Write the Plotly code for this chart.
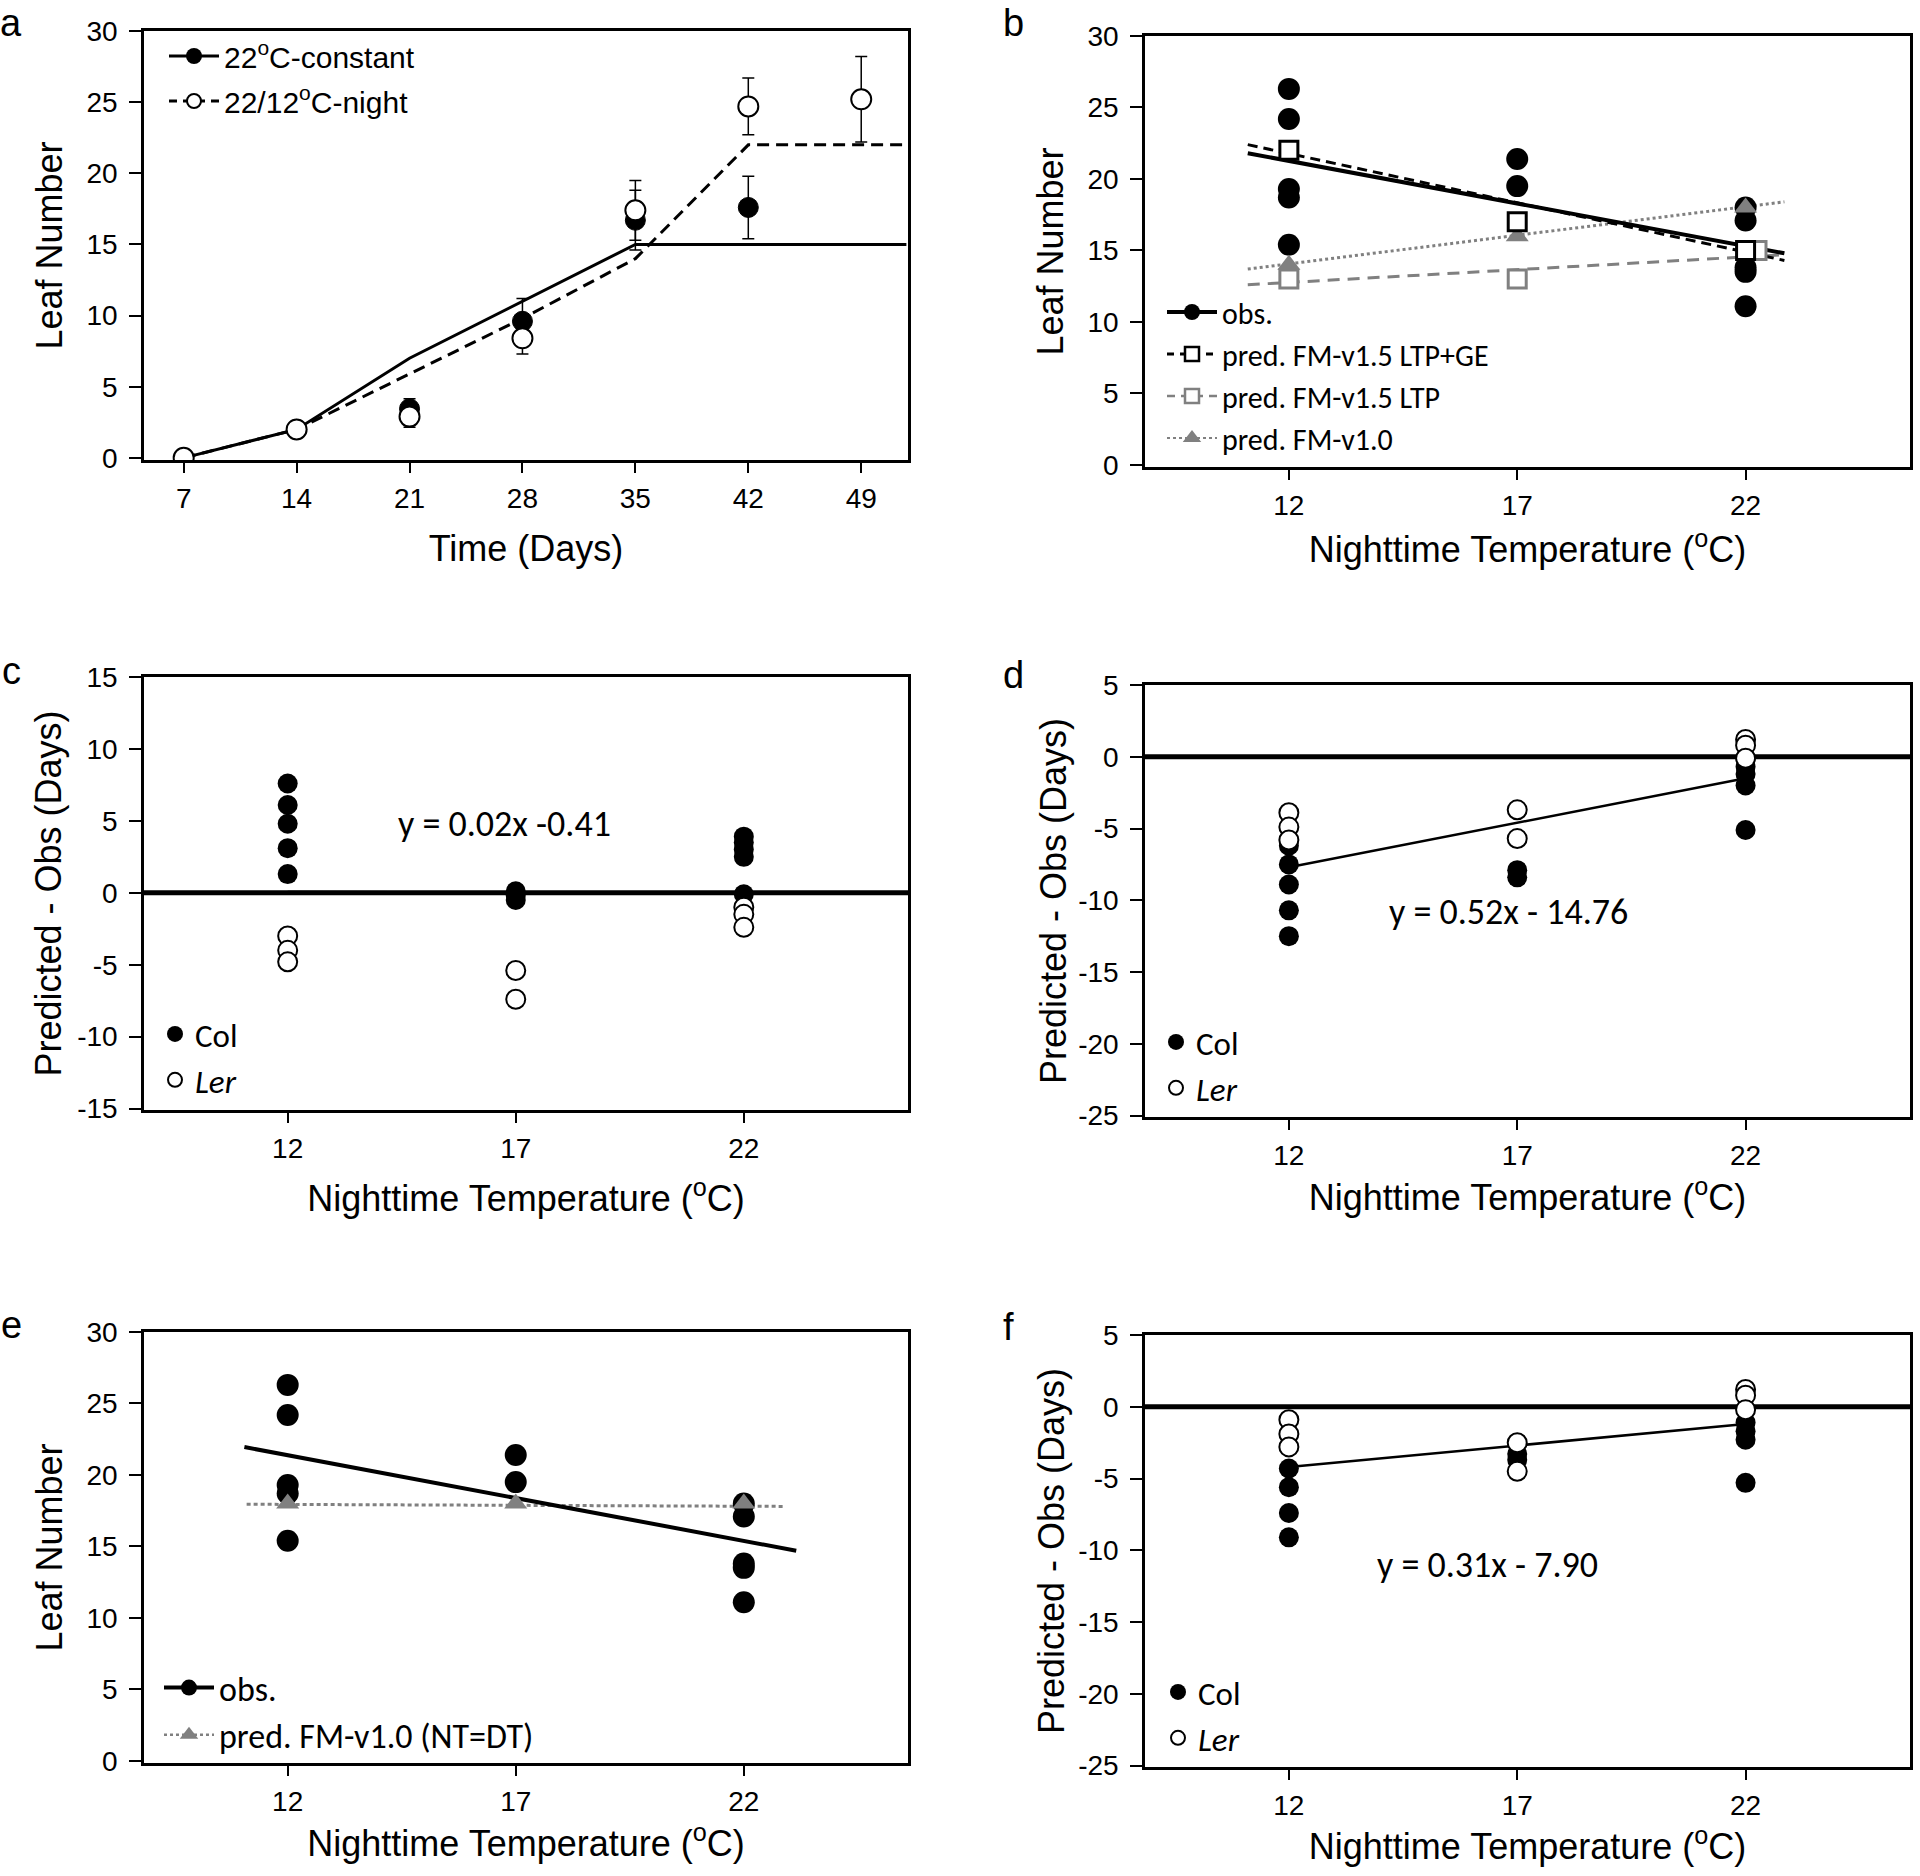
import plotly.graph_objects as go

# ---------------- data ----------------
# Panel a: leaf number over time
a_days = [7, 14, 21, 28, 35, 42]
a_const = [0.0, 2.0, 3.45, 9.6, 16.7, 17.6]
a_const_err = [0.0, 0.0, 0.7, 1.6, 2.1, 2.2]
a_night_days = [7, 14, 21, 28, 35, 42, 49]
a_night = [0.0, 2.0, 2.9, 8.4, 17.4, 24.7, 25.2]
a_night_err = [0.0, 0.0, 0.75, 1.1, 2.1, 2.0, 3.0]
a_model_days = [7, 14, 21, 28, 35, 51.8]
a_model_const = [0, 2, 7, 11, 15, 15]
a_model_night_days = [7, 14, 21, 28, 35, 42, 51.8]
a_model_night = [0, 2, 5.9, 9.8, 14.0, 22, 22]

# Panel b / e: leaf number vs nighttime temperature
temps = [12, 17, 22]
obs_temp = [12, 12, 12, 12, 12, 17, 17, 22, 22, 22, 22, 22]
obs_leaf = [26.3, 24.2, 19.3, 18.7, 15.4, 21.4, 19.5, 18.0, 17.1, 13.8, 13.5, 11.1]
pred_ltp_ge = [22.0, 17.0, 15.0]
ltp_temps = [12, 17, 22.25]
pred_ltp = [13.0, 13.0, 15.0]
pred_v10 = [14.0, 16.0, 18.0]
b_fit_temp = [11.1, 22.85]
b_fit_obs = [21.8, 14.8]
b_fit_ltp_ge = [22.4, 14.3]
b_fit_ltp = [12.6, 14.7]
b_fit_v10 = [13.7, 18.4]

e_pred_v10_ntdt = [18.0, 18.0, 18.0]
e_fit_temp = [11.05, 23.15]
e_fit_obs = [21.95, 14.7]
e_fit_v10_temp = [11.1, 22.9]
e_fit_v10 = [17.95, 17.8]

# Panel c: predicted - observed (days)
c_col_temp = [12, 12, 12, 12, 12, 17, 17, 17, 22, 22, 22, 22, 22]
c_col = [7.6, 6.1, 4.8, 3.1, 1.3, 0.1, -0.2, -0.5, 3.9, 3.5, 3.0, 2.5, -0.1]
c_ler_temp = [12, 12, 12, 17, 17, 22, 22, 22]
c_ler = [-3.0, -4.0, -4.8, -5.4, -7.4, -1.0, -1.5, -2.4]
c_fit_temp = [12, 22]
c_fit = [0.05, 0.0]
c_eq = "y = 0.02x -0.41"

# Panel d
d_col_temp = [12, 12, 12, 12, 12, 17, 17, 22, 22, 22, 22]
d_col = [-6.2, -7.5, -8.9, -10.7, -12.5, -7.9, -8.4, -0.7, -1.2, -2.0, -5.1]
d_ler_temp = [12, 12, 12, 17, 17, 22, 22, 22]
d_ler = [-3.9, -4.9, -5.8, -3.7, -5.7, 1.2, 0.8, -0.1]
d_fit_temp = [12, 22]
d_fit = [-7.7, -1.5]
d_eq = "y = 0.52x - 14.76"

# Panel f
f_col_temp = [12, 12, 12, 12, 17, 17, 22, 22, 22, 22]
f_col = [-4.3, -5.6, -7.4, -9.1, -3.3, -3.7, -1.1, -1.7, -2.3, -5.3]
f_ler_temp = [12, 12, 12, 17, 17, 22, 22, 22]
f_ler = [-0.9, -1.9, -2.8, -2.5, -4.5, 1.2, 0.8, -0.2]
f_fit_temp = [12, 22]
f_fit = [-4.2, -1.2]
f_eq = "y = 0.31x - 7.90"

# tick values / labels
day_ticks = [7, 14, 21, 28, 35, 42, 49]
leaf_ticks = [0, 5, 10, 15, 20, 25, 30]
c_ticks = [-15, -10, -5, 0, 5, 10, 15]
c_tick_labels = ["-15", "-10", "-5", "0", "5", "10", "15"]
df_ticks = [-25, -20, -15, -10, -5, 0, 5]
df_tick_labels = ["-25", "-20", "-15", "-10", "-5", "0", "5"]

# ---------------- styling ----------------
W, H = 1920, 1876
ARIAL = "Liberation Sans, Arial, sans-serif"
CAL = "Carlito, Calibri, Lato, sans-serif"
GREY = "#808080"
BLACK = "#000000"


def xd(l, r):
    return [l / W, r / W]


def yd(t, b):
    return [1 - b / H, 1 - t / H]


fig = go.Figure()

# ---------- panel a ----------
fig.add_trace(go.Scatter(x=a_model_days, y=a_model_const, mode="lines", xaxis="x", yaxis="y",
                         line=dict(color=BLACK, width=3), showlegend=False, hoverinfo="skip"))
fig.add_trace(go.Scatter(x=a_model_night_days, y=a_model_night, mode="lines", xaxis="x", yaxis="y",
                         line=dict(color=BLACK, width=3, dash="12px,7px"), showlegend=False, hoverinfo="skip"))
fig.add_trace(go.Scatter(x=a_days, y=a_const, mode="markers", xaxis="x", yaxis="y",
                         marker=dict(color=BLACK, size=20, line=dict(color=BLACK, width=1)),
                         error_y=dict(type="data", array=a_const_err, color=BLACK, thickness=1.5, width=6),
                         showlegend=False))
fig.add_trace(go.Scatter(x=a_night_days, y=a_night, mode="markers", xaxis="x", yaxis="y",
                         marker=dict(color="white", size=20, line=dict(color=BLACK, width=2)),
                         error_y=dict(type="data", array=a_night_err, color=BLACK, thickness=1.5, width=6),
                         showlegend=False))
fig.add_trace(go.Scatter(x=[None], y=[None], mode="lines+markers", xaxis="x", yaxis="y",
                         name="22<sup>o</sup>C-constant", legend="legend", legendgroup="a1",
                         marker=dict(color=BLACK, size=16), line=dict(color=BLACK, width=3)))
fig.add_trace(go.Scatter(x=[None], y=[None], mode="lines+markers", xaxis="x", yaxis="y",
                         name="22/12<sup>o</sup>C-night", legend="legend", legendgroup="a2",
                         marker=dict(color="white", size=14, line=dict(color=BLACK, width=2)),
                         line=dict(color=BLACK, width=3, dash="8px,6px")))

# ---------- panel b ----------
fig.add_trace(go.Scatter(x=b_fit_temp, y=b_fit_v10, mode="lines", xaxis="x2", yaxis="y2",
                         line=dict(color=GREY, width=3, dash="3px,3px"), showlegend=False, hoverinfo="skip"))
fig.add_trace(go.Scatter(x=b_fit_temp, y=b_fit_ltp, mode="lines", xaxis="x2", yaxis="y2",
                         line=dict(color=GREY, width=3, dash="12px,8px"), showlegend=False, hoverinfo="skip"))
fig.add_trace(go.Scatter(x=b_fit_temp, y=b_fit_obs, mode="lines", xaxis="x2", yaxis="y2",
                         line=dict(color=BLACK, width=4), showlegend=False, hoverinfo="skip"))
fig.add_trace(go.Scatter(x=b_fit_temp, y=b_fit_ltp_ge, mode="lines", xaxis="x2", yaxis="y2",
                         line=dict(color=BLACK, width=3, dash="10px,6px"), showlegend=False, hoverinfo="skip"))
fig.add_trace(go.Scatter(x=obs_temp, y=obs_leaf, mode="markers", xaxis="x2", yaxis="y2",
                         marker=dict(color=BLACK, size=22), showlegend=False))
fig.add_trace(go.Scatter(x=temps, y=pred_v10, mode="markers", xaxis="x2", yaxis="y2",
                         marker=dict(color=GREY, size=20, symbol="triangle-up"), showlegend=False))
fig.add_trace(go.Scatter(x=ltp_temps, y=pred_ltp, mode="markers", xaxis="x2", yaxis="y2",
                         marker=dict(color="white", size=18, symbol="square", line=dict(color=GREY, width=3)),
                         showlegend=False))
fig.add_trace(go.Scatter(x=temps, y=pred_ltp_ge, mode="markers", xaxis="x2", yaxis="y2",
                         marker=dict(color="white", size=18, symbol="square", line=dict(color=BLACK, width=3)),
                         showlegend=False))
b_leg = [
    ("obs.", dict(color=BLACK, size=16), dict(color=BLACK, width=4)),
    ("pred. FM-v1.5 LTP+GE", dict(color="white", size=14, symbol="square", line=dict(color=BLACK, width=2.5)),
     dict(color=BLACK, width=3, dash="7px,6px")),
    ("pred. FM-v1.5 LTP", dict(color="white", size=14, symbol="square", line=dict(color=GREY, width=2.5)),
     dict(color=GREY, width=2.5, dash="8px,6px")),
    ("pred. FM-v1.0", dict(color=GREY, size=16, symbol="triangle-up"), dict(color=GREY, width=2, dash="3px,3px")),
]
for i, (nm, mk, ln) in enumerate(b_leg):
    fig.add_trace(go.Scatter(x=[None], y=[None], mode="lines+markers", xaxis="x2", yaxis="y2",
                             name=nm, legend="legend2", legendgroup="b%d" % i, marker=mk, line=ln))


# ---------- panels c, d, f ----------
def resid_panel(xa, ya, leg, col_t, col_v, ler_t, ler_v, fit_t, fit_v):
    fig.add_trace(go.Scatter(x=fit_t, y=fit_v, mode="lines", xaxis=xa, yaxis=ya,
                             line=dict(color=BLACK, width=2.5), showlegend=False, hoverinfo="skip"))
    fig.add_trace(go.Scatter(x=col_t, y=col_v, mode="markers", xaxis=xa, yaxis=ya,
                             marker=dict(color=BLACK, size=20), showlegend=False))
    fig.add_trace(go.Scatter(x=ler_t, y=ler_v, mode="markers", xaxis=xa, yaxis=ya,
                             marker=dict(color="white", size=19, line=dict(color=BLACK, width=2)),
                             showlegend=False))
    fig.add_trace(go.Scatter(x=[None], y=[None], mode="markers", xaxis=xa, yaxis=ya, name="Col",
                             legend=leg, legendgroup=leg + "1", marker=dict(color=BLACK, size=16)))
    fig.add_trace(go.Scatter(x=[None], y=[None], mode="markers", xaxis=xa, yaxis=ya, name="<i>Ler</i>",
                             legend=leg, legendgroup=leg + "2",
                             marker=dict(color="white", size=14, line=dict(color=BLACK, width=2))))


resid_panel("x3", "y3", "legend3", c_col_temp, c_col, c_ler_temp, c_ler, c_fit_temp, c_fit)
resid_panel("x4", "y4", "legend4", d_col_temp, d_col, d_ler_temp, d_ler, d_fit_temp, d_fit)
resid_panel("x6", "y6", "legend6", f_col_temp, f_col, f_ler_temp, f_ler, f_fit_temp, f_fit)

# ---------- panel e ----------
fig.add_trace(go.Scatter(x=e_fit_v10_temp, y=e_fit_v10, mode="lines", xaxis="x5", yaxis="y5",
                         line=dict(color=GREY, width=3, dash="4px,3px"), showlegend=False, hoverinfo="skip"))
fig.add_trace(go.Scatter(x=e_fit_temp, y=e_fit_obs, mode="lines", xaxis="x5", yaxis="y5",
                         line=dict(color=BLACK, width=4), showlegend=False, hoverinfo="skip"))
fig.add_trace(go.Scatter(x=obs_temp, y=obs_leaf, mode="markers", xaxis="x5", yaxis="y5",
                         marker=dict(color=BLACK, size=22), showlegend=False))
fig.add_trace(go.Scatter(x=temps, y=e_pred_v10_ntdt, mode="markers", xaxis="x5", yaxis="y5",
                         marker=dict(color=GREY, size=20, symbol="triangle-up"), showlegend=False))
fig.add_trace(go.Scatter(x=[None], y=[None], mode="lines+markers", xaxis="x5", yaxis="y5", name="obs.",
                         legend="legend5", legendgroup="e1",
                         marker=dict(color=BLACK, size=16), line=dict(color=BLACK, width=4)))
fig.add_trace(go.Scatter(x=[None], y=[None], mode="lines+markers", xaxis="x5", yaxis="y5",
                         name="pred. FM-v1.0 (NT=DT)", legend="legend5", legendgroup="e2",
                         marker=dict(color=GREY, size=16, symbol="triangle-up"),
                         line=dict(color=GREY, width=2.5, dash="3px,3px")))

# ---------------- axes ----------------
ax_common = dict(showline=True, linecolor=BLACK, linewidth=2.5, mirror=True, ticks="outside",
                 tickwidth=2, tickcolor=BLACK, showgrid=False, zeroline=False, automargin=False,
                 tickfont=dict(family=ARIAL, size=28, color=BLACK),
                 title_font=dict(family=ARIAL, size=36, color=BLACK))

TEMP_TITLE = "Nighttime Temperature (<sup>o</sup>C)"
LEFT = xd(144, 908)
RIGHT = xd(1145, 1910)
temp_range = [8.85, 25.6]

layout_axes = {
    "xaxis": dict(domain=LEFT, range=[4.54, 51.9], tickvals=day_ticks, anchor="y",
                  title=dict(text="Time (Days)", standoff=23)),
    "yaxis": dict(domain=yd(31, 460), range=[-0.15, 30], tickvals=leaf_ticks, anchor="x",
                  title=dict(text="Leaf Number", standoff=13)),
    "xaxis2": dict(domain=RIGHT, range=temp_range, tickvals=temps, anchor="y2",
                   title=dict(text=TEMP_TITLE, standoff=17)),
    "yaxis2": dict(domain=yd(36, 467), range=[-0.15, 30], tickvals=leaf_ticks, anchor="x2",
                   title=dict(text="Leaf Number", standoff=13)),
    "xaxis3": dict(domain=LEFT, range=temp_range, tickvals=temps, anchor="y3",
                   title=dict(text=TEMP_TITLE, standoff=23)),
    "yaxis3": dict(domain=yd(677, 1110), range=[-15.1, 15], tickvals=c_ticks, ticktext=c_tick_labels,
                   anchor="x3", title=dict(text="Predicted - Obs (Days)", standoff=5)),
    "xaxis4": dict(domain=RIGHT, range=temp_range, tickvals=temps, anchor="y4",
                   title=dict(text=TEMP_TITLE, standoff=15)),
    "yaxis4": dict(domain=yd(685, 1117), range=[-25.1, 5], tickvals=df_ticks, ticktext=df_tick_labels,
                   anchor="x4", title=dict(text="Predicted - Obs (Days)", standoff=1)),
    "xaxis5": dict(domain=LEFT, range=temp_range, tickvals=temps, anchor="y5",
                   title=dict(text=TEMP_TITLE, standoff=15)),
    "yaxis5": dict(domain=yd(1332, 1763), range=[-0.15, 30], tickvals=leaf_ticks, anchor="x5",
                   title=dict(text="Leaf Number", standoff=13)),
    "xaxis6": dict(domain=RIGHT, range=temp_range, tickvals=temps, anchor="y6",
                   title=dict(text=TEMP_TITLE, standoff=14)),
    "yaxis6": dict(domain=yd(1335, 1767), range=[-25.1, 5], tickvals=df_ticks, ticktext=df_tick_labels,
                   anchor="x6", title=dict(text="Predicted - Obs (Days)", standoff=3)),
}
for k, v in layout_axes.items():
    d = dict(ax_common)
    d.update(v)
    if k.startswith("x"):
        d["ticklen"] = 10
        d["ticklabelstandoff"] = 2
    else:
        d["ticklen"] = 12
        d["ticklabelstandoff"] = 6
    layout_axes[k] = d


def leg(x, y, size, family, gap, iw):
    return dict(x=x / W, y=1 - y / H, xanchor="left", yanchor="top", bgcolor="rgba(0,0,0,0)",
                borderwidth=0, font=dict(family=family, size=size, color=BLACK),
                itemwidth=iw, traceorder="grouped", tracegroupgap=gap, itemclick=False,
                itemdoubleclick=False)


legends = {
    "legend": leg(164, 30, 30, ARIAL, 3, 50),
    "legend2": leg(1162, 286, 30, CAL, 0, 50),
    "legend3": leg(155, 1006, 33, CAL, 0, 30),
    "legend4": leg(1156, 1014, 33, CAL, 0, 30),
    "legend5": leg(159, 1659, 34, CAL, 0, 50),
    "legend6": leg(1158, 1664, 33, CAL, 0, 30),
}

# zero reference lines for residual panels
shapes = []
for xa, ya in [("x3", "y3"), ("x4", "y4"), ("x6", "y6")]:
    shapes.append(dict(type="line", xref=xa + " domain", yref=ya, x0=0, x1=1, y0=0, y1=0,
                       line=dict(color=BLACK, width=5), layer="below"))

annotations = []
for txt, xa, ya, xv, yv in [(c_eq, "x3", "y3", 16.75, 4.8), (d_eq, "x4", "y4", 16.8, -10.8),
                            (f_eq, "x6", "y6", 16.35, -11.0)]:
    annotations.append(dict(text=txt, xref=xa, yref=ya, x=xv, y=yv, showarrow=False,
                            font=dict(family=CAL, size=36, color=BLACK)))
for letter, lx, ly, anc in [("a", -2, 0, "top"), ("b", 1001, 0, "top"), ("c", 0, 671, "middle"),
                            ("d", 1001, 675, "middle"), ("e", -1, 1325, "middle"),
                            ("f", 1001, 1327, "middle")]:
    annotations.append(dict(text=letter, xref="paper", yref="paper", x=lx / W, y=1 - ly / H,
                            xanchor="left", yanchor=anc, showarrow=False,
                            font=dict(family=ARIAL, size=38, color=BLACK)))

fig.update_layout(template="none", width=W, height=H, margin=dict(l=0, r=0, t=0, b=0),
                  paper_bgcolor="white", plot_bgcolor="white", shapes=shapes,
                  annotations=annotations, **layout_axes, **legends)

fig.write_html("out.html", config={"displayModeBar": False},
               post_script="document.documentElement.style.margin='0';document.body.style.margin='0';"
                           "document.body.style.padding='0';document.documentElement.style.overflow='hidden';"
                           "document.body.style.overflow='hidden';")
